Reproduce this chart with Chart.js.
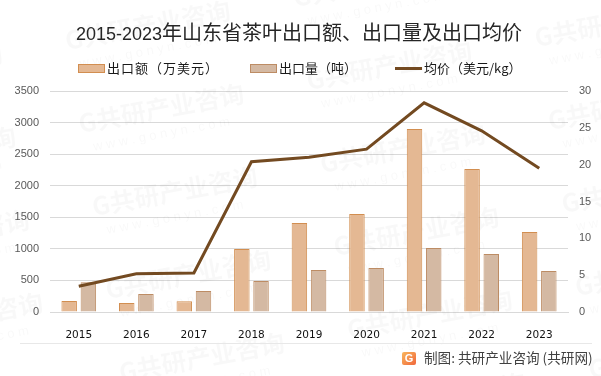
<!DOCTYPE html>
<html lang="zh">
<head>
<meta charset="utf-8">
<title>2015-2023年山东省茶叶出口额、出口量及出口均价</title>
<script src="https://cdn.jsdelivr.net/npm/chart.js@4/dist/chart.umd.min.js"></script>
<style>
  html, body { margin: 0; padding: 0; background: #fff; }
  #wrap { position: relative; width: 601px; height: 376px; overflow: hidden; font-family: "Noto Sans CJK SC", sans-serif; }
  #chart { position: absolute; left: 0; top: 0; }
  .abs { position: absolute; white-space: nowrap; }
  #title { left: 0; width: 598px; top: 19px; text-align: center; font-size: 20px; line-height: 26px; color: #262626; }
  #title span { font-family: "Liberation Sans", sans-serif; font-size: 18px; }
  .legend-text { top: 59px; font-size: 13px; line-height: 18px; color: #1a1a1a; }
  .swatch { top: 64px; width: 25px; height: 7px; border-style: solid; border-width: 1px; }
  #rule { left: 20px; top: 343px; width: 572px; height: 1px; background: #e8e8e8; }
  #logo { left: 402px; top: 352px; width: 14px; height: 13px; border-radius: 2px; background: linear-gradient(135deg, #f9b65c, #f0673c); color: #fff; font: bold 11px/13px "Liberation Sans", sans-serif; text-align: center; }
  #source { left: 424px; top: 347px; font-size: 13.6px; line-height: 20px; color: #404040; }
</style>
</head>
<body>
<div id="wrap">
  <canvas id="chart" width="601" height="376"></canvas>
  <div class="abs" id="title"><span>2015-2023</span>年山东省茶叶出口额、出口量及出口均价</div>
  <div class="abs swatch" style="left:78px;background:#E4B893;border-color:#D28E50"></div>
  <div class="abs legend-text" style="left:107px;letter-spacing:1px" id="leg0"></div>
  <div class="abs swatch" style="left:250px;background:#D4B9A3;border-color:#BD8C64"></div>
  <div class="abs legend-text" style="left:279px" id="leg1"></div>
  <div class="abs" style="left:395px;top:67px;width:27px;height:3px;background:#734A21"></div>
  <div class="abs legend-text" style="left:424px" id="leg2"></div>
  <div class="abs" id="rule"></div>
  <div class="abs" id="logo">G</div>
  <div class="abs" id="source">制图: 共研产业咨询 (共研网)</div>
</div>
<script>
const years = ['2015', '2016', '2017', '2018', '2019', '2020', '2021', '2022', '2023'];
const exportValue = [174, 142, 170, 998, 1410, 1553, 2900, 2266, 1267];
const exportVolume = [470, 285, 333, 491, 665, 697, 1014, 919, 650];
const avgPrice = [3.5, 5.2, 5.3, 20.4, 21.0, 22.1, 28.4, 24.6, 19.5];
const seriesNames = ['出口额（万美元）', '出口量（吨）', '均价（美元/kg）'];

seriesNames.forEach((name, i) => {
  document.getElementById('leg' + i).textContent = name;
});

// faint repeated site watermark behind the marks
const watermark = {
  id: 'watermark',
  beforeDatasetsDraw(chart) {
    const c = chart.ctx;
    c.save();
    c.fillStyle = 'rgba(0,0,0,0.028)';
    for (let i = -2; i < 5; i++) {
      for (let j = -2; j < 6; j++) {
        const x = 67 + i * 228 + j * 13.5;
        const y = 50 - i * 43 + j * 83;
        c.save();
        c.translate(x, y);
        c.rotate(-0.185);
        c.font = 'bold 25px "Noto Sans CJK SC"';
        c.fillText('G共研产业咨询', 0, 0);
        c.font = '13px "Liberation Sans"';
        c.fillText('w w w . g o n y n . c o m', 10, 20);
        c.restore();
      }
    }
    c.restore();
  }
};

new Chart(document.getElementById('chart'), {
  type: 'bar',
  plugins: [watermark],
  data: {
    labels: years,
    datasets: [
      {
        type: 'line',
        label: seriesNames[2],
        data: avgPrice,
        yAxisID: 'y1',
        borderColor: '#734A21',
        borderWidth: 3,
        tension: 0,
        pointRadius: 0,
        order: 0
      },
      {
        label: seriesNames[0],
        data: exportValue,
        yAxisID: 'y',
        backgroundColor: '#E4B893',
        borderColor: '#D28E50',
        borderWidth: 1,
        categoryPercentage: 0.667,
        barPercentage: 0.807,
        order: 1
      },
      {
        label: seriesNames[1],
        data: exportVolume,
        yAxisID: 'y',
        backgroundColor: '#D4B9A3',
        borderColor: '#BD8C64',
        borderWidth: 1,
        categoryPercentage: 0.667,
        barPercentage: 0.807,
        order: 1
      }
    ]
  },
  options: {
    responsive: false,
    animation: false,
    layout: { padding: { top: 91 } },
    plugins: {
      legend: { display: false },
      title: { display: false },
      tooltip: { enabled: false }
    },
    scales: {
      x: {
        grid: { display: false },
        border: { color: '#d9d9d9' },
        ticks: { color: '#111', padding: 9, font: { family: 'DejaVu Sans', size: 10.5 } },
        afterFit: s => { s.height = 64; }
      },
      y: {
        position: 'left',
        min: 0,
        max: 3500,
        grid: { color: '#d9d9d9', drawTicks: false },
        border: { display: false },
        ticks: {
          stepSize: 500,
          color: '#595959',
          padding: 11,
          font: { family: 'Liberation Sans', size: 11 },
          callback: v => String(v)
        },
        afterFit: s => { s.width = 50; }
      },
      y1: {
        position: 'right',
        min: 0,
        max: 30,
        grid: { display: false, drawTicks: false },
        border: { display: false },
        ticks: { stepSize: 5, color: '#595959', padding: 11, font: { family: 'Liberation Sans', size: 11 } },
        afterFit: s => { s.width = 33; }
      }
    }
  }
});
</script>
</body>
</html>
